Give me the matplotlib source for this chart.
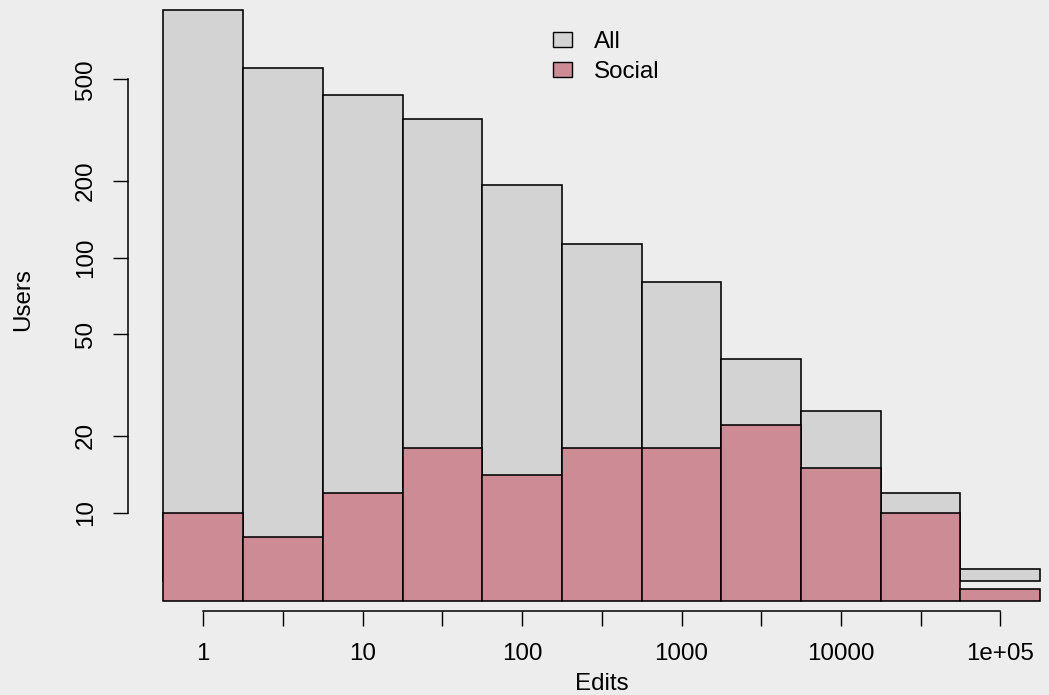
import numpy as np
import matplotlib
matplotlib.use("Agg")
import matplotlib.pyplot as plt
from matplotlib.patches import Rectangle

plt.rcParams['font.family'] = ['Liberation Sans', 'DejaVu Sans']

# Data (log10 bin centres of edits, half-decade bins)
bin_centers_log = [0.0, 0.5, 1.0, 1.5, 2.0, 2.5, 3.0, 3.5, 4.0, 4.5, 5.0]
all_users = [935, 554, 434, 349, 193, 113, 80, 40, 25, 12, 6]
social_users = [10, 8, 12, 18, 14, 18, 18, 22, 15, 10, 5]
xtick_vals = [1, 10, 100, 1000, 10000, 100000]
xtick_labels = ["1", "10", "100", "1000", "10000", "1e+05"]
ytick_vals = [10, 20, 50, 100, 200, 500]
ytick_labels = ["10", "20", "50", "100", "200", "500"]
legend_labels = ["All", "Social"]

W, H = 1049, 695
BG = "#EDEDED"
GRAY = "#D3D3D3"
PINK = "#CD8C95"
FS = 17.4

fig = plt.figure(figsize=(W / 100, H / 100), dpi=100, facecolor=BG)
# axes pixel box
L, R, T, B = 164, 1040, 0, 602
ax = fig.add_axes([L / W, 1 - B / H, (R - L) / W, (B - T) / H])
ax.set_facecolor(BG)
ax.set_xscale("log")
ax.set_yscale("log")

ppd_y = 255.1
y10 = 512.7
ylo = 10 ** (1 - (B - y10) / ppd_y)
yhi = 10 ** (1 + (y10 - T) / ppd_y)
ax.set_ylim(ylo, yhi)
ax.set_xlim(10 ** -0.2466, 10 ** 5.249)

half = 0.25
lefts = [10 ** (c - half) for c in bin_centers_log]
widths = [10 ** (c + half) - 10 ** (c - half) for c in bin_centers_log]
all_bottom = 10 ** (1 - (581 - y10) / ppd_y)
social_bottom = 10 ** (1 - (601.5 - y10) / ppd_y)

ax.bar(lefts, [a - all_bottom for a in all_users], width=widths, bottom=all_bottom,
       align="edge", color=GRAY, edgecolor="black", linewidth=1.15, zorder=2, clip_on=False)
ax.bar(lefts, [s - social_bottom for s in social_users], width=widths, bottom=social_bottom,
       align="edge", color=PINK, edgecolor="black", linewidth=1.15, zorder=3, clip_on=False)

for s in ["top", "right"]:
    ax.spines[s].set_visible(False)
ax.spines["bottom"].set_position(("outward", 9 * 0.72))
ax.spines["left"].set_position(("outward", 36 * 0.72))
ax.spines["bottom"].set_bounds(1, 100000)
ax.spines["left"].set_bounds(10, 500)
for s in ["bottom", "left"]:
    ax.spines[s].set_linewidth(1.1)

minor = [10 ** (k + 0.5) for k in range(5)]
ax.set_xticks(xtick_vals)
ax.set_xticklabels(xtick_labels, fontsize=FS)
ax.set_xticks(minor, minor=True)
ax.xaxis.set_minor_formatter(matplotlib.ticker.NullFormatter())
ax.tick_params(axis="x", which="both", direction="out", length=15 * 0.72, width=1.0,
               pad=17 * 0.72)
ax.set_yticks(ytick_vals)
ax.set_yticklabels(ytick_labels, fontsize=FS, rotation=90, va="center")
ax.yaxis.set_minor_locator(matplotlib.ticker.NullLocator())
ax.tick_params(axis="y", which="both", direction="out", length=15 * 0.72, width=1.0,
               pad=16 * 0.72)

fig.text(602 / W, 1 - 684 / H, "Edits", fontsize=FS, ha="center", va="center")
fig.text(23.5 / W, 1 - 300 / H, "Users", fontsize=FS, ha="center", va="center", rotation=90)

# legend
rows = [(32.3, 46.7, 39.5, GRAY), (62.3, 76.7, 69.0, PINK)]
for (yt, yb, yc, col), lab in zip(rows, legend_labels):
    fig.add_artist(Rectangle((552.7 / W, 1 - yb / H), 19 / W, (yb - yt) / H,
                             transform=fig.transFigure, facecolor=col,
                             edgecolor="black", linewidth=1.0))
    fig.text(594 / W, 1 - yc / H, lab, fontsize=FS, ha="left", va="center_baseline")

fig.savefig("out.png", dpi=100, facecolor=BG)
